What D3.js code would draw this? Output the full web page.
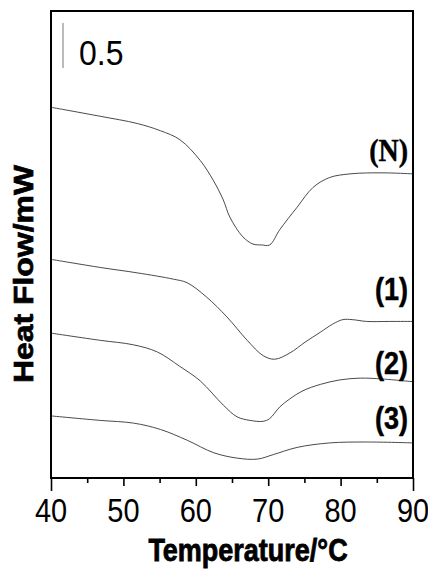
<!DOCTYPE html>
<html>
<head>
<meta charset="utf-8">
<script src="https://cdn.jsdelivr.net/npm/d3@7"></script>
<style>
  body { margin: 0; background: #fff; }
  svg { display: block; }
</style>
</head>
<body>
<div id="chart"></div>
<script>
// DSC heat flow curves (mW, offset stacked)
const tempN = [40, 46.8, 51.9, 55.1, 57.8, 60.6, 62.4, 63.8, 64.7, 66.5, 67.9, 69.1, 70.2, 71.6, 74.0, 76.2, 78.5, 81.3, 83.6, 86.8, 90];
const flowN = [4.12, 4.02, 3.94, 3.86, 3.76, 3.53, 3.31, 3.09, 2.90, 2.68, 2.60, 2.59, 2.59, 2.76, 3.01, 3.23, 3.34, 3.38, 3.39, 3.39, 3.38];

const temp1 = [40, 46.8, 51.9, 56.9, 58.8, 61.5, 64.3, 67.1, 69.3, 70.9, 73.0, 75.1, 77.2, 78.9, 80.3, 81.6, 83.6, 86.8, 90];
const flow1 = [2.43, 2.34, 2.28, 2.21, 2.17, 2.01, 1.79, 1.53, 1.36, 1.32, 1.39, 1.51, 1.62, 1.71, 1.76, 1.76, 1.74, 1.74, 1.74];

const temp2 = [40, 46.8, 51.4, 54.7, 57.8, 60.6, 63.8, 65.7, 67.5, 69.3, 70.2, 71.6, 73.0, 74.8, 77.2, 79.9, 82.7, 85.8, 90];
const flow2 = [1.61, 1.53, 1.48, 1.40, 1.24, 1.08, 0.81, 0.68, 0.64, 0.63, 0.66, 0.79, 0.88, 0.97, 1.04, 1.09, 1.11, 1.10, 1.07];

const temp3 = [40, 46.8, 51.4, 55.1, 58.8, 62.5, 65.8, 68.5, 70.7, 74.0, 78.5, 83.6, 90];
const flow3 = [0.69, 0.64, 0.61, 0.54, 0.42, 0.28, 0.22, 0.21, 0.26, 0.34, 0.39, 0.40, 0.39];

const curveNames = ["(N)", "(1)", "(2)", "(3)"];
const xTicks = [40, 50, 60, 70, 80, 90];
const xMinorTicks = [45, 55, 65, 75, 85];
const scaleBarValue = 0.5;

function drawChart() {
    const width = 428, height = 571;
    const margin = {top: 11, right: 15, bottom: 93, left: 51};
    const innerW = width - margin.left - margin.right,
        innerH = height - margin.top - margin.bottom;

    const svg = d3.select("#chart")
        .append("svg")
            .attr("width", width)
            .attr("height", height);

    const x = d3.scaleLinear()
        .domain([40, 90])
        .range([margin.left, margin.left + innerW]);

    const y = d3.scaleLinear()
        .domain([0, 5.19])
        .range([margin.top + innerH, margin.top]);

    const series = [
        {name: curveNames[0], t: tempN, v: flowN},
        {name: curveNames[1], t: temp1, v: flow1},
        {name: curveNames[2], t: temp2, v: flow2},
        {name: curveNames[3], t: temp3, v: flow3}
    ];

    const line = d3.line()
        .x(d => x(d[0]))
        .y(d => y(d[1]))
        .curve(d3.curveCatmullRom.alpha(0.5));

    svg.selectAll(".curve")
        .data(series)
        .join("path")
            .attr("class", "curve")
            .attr("fill", "none")
            .attr("stroke", "#4a4a4a")
            .attr("stroke-width", 1)
            .attr("d", d => line(d.t.map((t, i) => [t, d.v[i]])));

    // x axis: major + minor ticks
    const xAxis = svg.append("g")
        .attr("transform", "translate(0," + (margin.top + innerH) + ")")
        .call(d3.axisBottom(x).tickValues(xTicks).tickSize(8).tickFormat(""));
    xAxis.select(".domain").remove();
    xAxis.selectAll(".tick line")
        .attr("stroke", "#000")
        .attr("stroke-width", 1.6)
        .attr("y2", (d, i) => (i === 0 || i === xTicks.length - 1) ? 13 : 8);

    svg.append("g")
        .attr("transform", "translate(0," + (margin.top + innerH) + ")")
        .call(d3.axisBottom(x).tickValues(xMinorTicks).tickSize(5).tickFormat(""))
        .call(g => g.select(".domain").remove())
        .selectAll(".tick line")
            .attr("stroke", "#000")
            .attr("stroke-width", 1.6);

    // tick labels, slightly tall glyphs like the original
    svg.selectAll(".xlabel")
        .data(xTicks)
        .join("g")
            .attr("class", "xlabel")
            .attr("transform", d => "translate(" + x(d) + "," + (margin.top + innerH + 44) + ") scale(1,1.15)")
        .append("text")
            .attr("text-anchor", "middle")
            .style("font-family", "'Liberation Sans', Arial, sans-serif")
            .style("font-size", "29px")
            .attr("fill", "#000")
            .text(d => d);

    // frame
    svg.append("rect")
        .attr("x", margin.left)
        .attr("y", margin.top)
        .attr("width", innerW)
        .attr("height", innerH)
        .attr("fill", "none")
        .attr("stroke", "#000")
        .attr("stroke-width", 2);

    // axis titles
    svg.append("g")
        .attr("transform", "translate(248,561) scale(1,1.18)")
        .append("text")
            .attr("text-anchor", "middle")
            .style("font-family", "'Liberation Sans', Arial, sans-serif")
            .style("font-weight", "bold")
            .style("font-size", "27px")
            .attr("fill", "#000")
            .attr("stroke", "#000")
            .attr("stroke-width", 0.7)
            .text("Temperature/°C");

    svg.append("g")
        .attr("transform", "translate(33,274) rotate(-90) scale(1.14,1)")
        .append("text")
            .attr("text-anchor", "middle")
            .style("font-family", "'Liberation Sans', Arial, sans-serif")
            .style("font-weight", "bold")
            .style("font-size", "28px")
            .attr("fill", "#000")
            .attr("stroke", "#000")
            .attr("stroke-width", 0.7)
            .text("Heat Flow/mW");

    // scale bar
    const barTop = 23;
    const barLen = y(0) - y(scaleBarValue);
    svg.append("line")
        .attr("x1", 63).attr("x2", 63)
        .attr("y1", barTop).attr("y2", barTop + barLen)
        .attr("stroke", "#777")
        .attr("stroke-width", 1);

    svg.append("g")
        .attr("transform", "translate(79,65) scale(1,1.12)")
        .append("text")
            .style("font-family", "'Liberation Sans', Arial, sans-serif")
            .style("font-size", "32px")
            .attr("fill", "#000")
            .text(scaleBarValue);

    // curve labels
    const labelY = [161, 300, 374, 429];
    svg.selectAll(".curve-label")
        .data(series)
        .join("g")
            .attr("class", "curve-label")
            .attr("transform", (d, i) => "translate(408," + labelY[i] + ") scale(1,1.15)")
        .append("text")
            .attr("text-anchor", "end")
            .style("font-family", (d, i) => i === 0 ? "'Liberation Serif', 'Times New Roman', serif" : "'Liberation Sans', Arial, sans-serif")
            .style("font-weight", "bold")
            .style("font-size", (d, i) => i === 0 ? "28px" : "27px")
            .attr("fill", "#000")
            .attr("stroke", "#000")
            .attr("stroke-width", 0.4)
            .text(d => d.name);
}

drawChart();
</script>
</body>
</html>
